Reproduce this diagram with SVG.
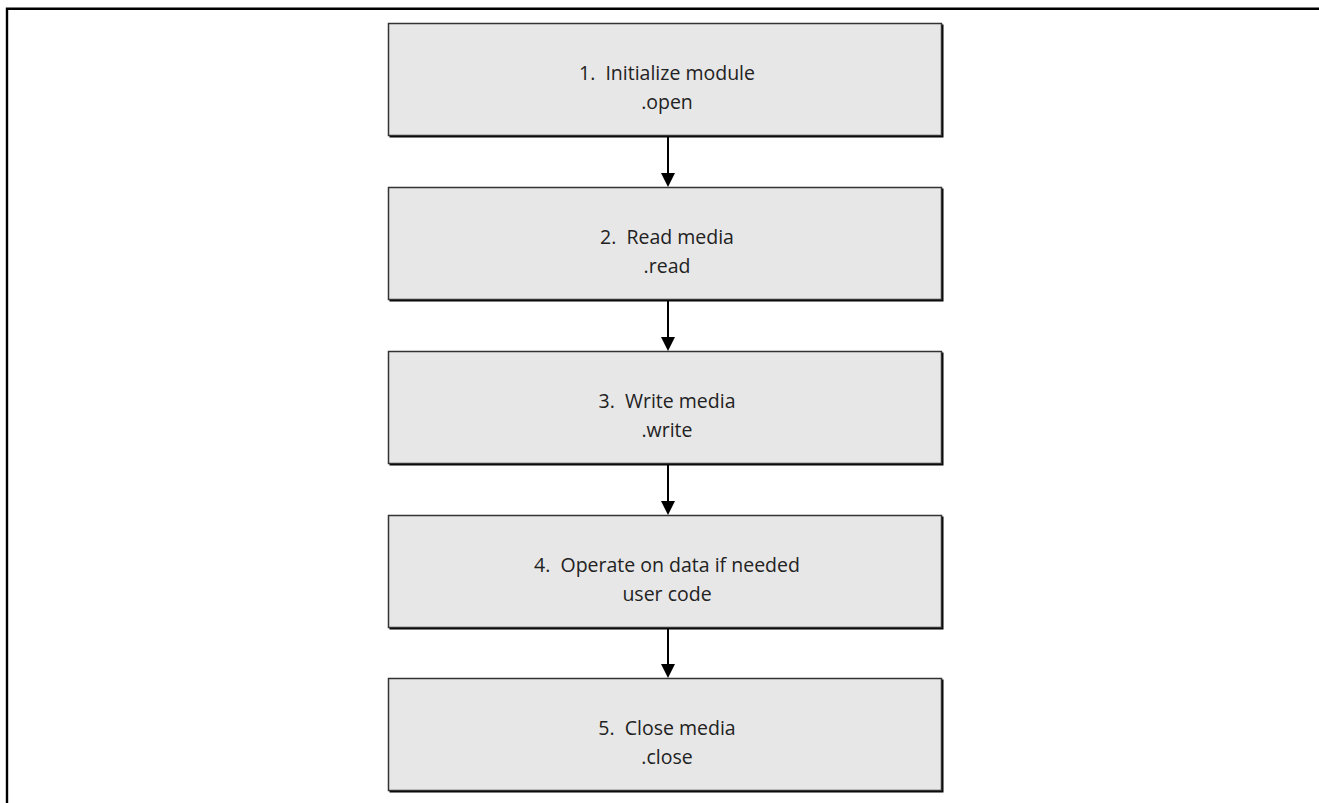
<svg xmlns="http://www.w3.org/2000/svg" width="1319" height="803" viewBox="0 0 1319 803">
<style>
.box{fill:#e7e7e7;stroke:#333;stroke-width:1.5}
.sh{fill:#000}
.t{font-family:"Open Sans","Liberation Sans",sans-serif;font-size:19.5px;fill:#222;text-anchor:middle;white-space:pre}
.c{stroke:#000;stroke-width:2;fill:none}
</style>
<rect width="1319" height="803" fill="#fff"/>
<path d="M7,803 V8.8 H1319" fill="none" stroke="#000" stroke-width="2.4"/>
<g id="n1"><rect class="sh" x="389.5" y="24.5" width="554" height="113"/><rect class="box" x="388.5" y="23.5" width="553" height="112"/><text class="t" x="667" y="80" xml:space="preserve">1.  Initialize module</text><text class="t" x="667" y="109">.open</text></g>
<g id="n2"><rect class="sh" x="389.5" y="188.5" width="554" height="113"/><rect class="box" x="388.5" y="187.5" width="553" height="112"/><text class="t" x="667" y="244" xml:space="preserve">2.  Read media</text><text class="t" x="667" y="273">.read</text></g>
<g id="n3"><rect class="sh" x="389.5" y="352.5" width="554" height="113"/><rect class="box" x="388.5" y="351.5" width="553" height="112"/><text class="t" x="667" y="408" xml:space="preserve">3.  Write media</text><text class="t" x="667" y="437">.write</text></g>
<g id="n4"><rect class="sh" x="389.5" y="516.5" width="554" height="113"/><rect class="box" x="388.5" y="515.5" width="553" height="112"/><text class="t" x="667" y="572" xml:space="preserve">4.  Operate on data if needed</text><text class="t" x="667" y="601">user code</text></g>
<g id="n5"><rect class="sh" x="389.5" y="679.5" width="554" height="113"/><rect class="box" x="388.5" y="678.5" width="553" height="112"/><text class="t" x="667" y="735" xml:space="preserve">5.  Close media</text><text class="t" x="667" y="764">.close</text></g>
<g id="connectors">
<path d="M668,137 V173" class="c"/><path d="M661,173 H675 L668,187 Z" fill="#000"/>
<path d="M668,301 V337" class="c"/><path d="M661,337 H675 L668,351 Z" fill="#000"/>
<path d="M668,465 V501" class="c"/><path d="M661,501 H675 L668,515 Z" fill="#000"/>
<path d="M668,629 V664" class="c"/><path d="M661,664 H675 L668,678 Z" fill="#000"/>
</g>
</svg>
